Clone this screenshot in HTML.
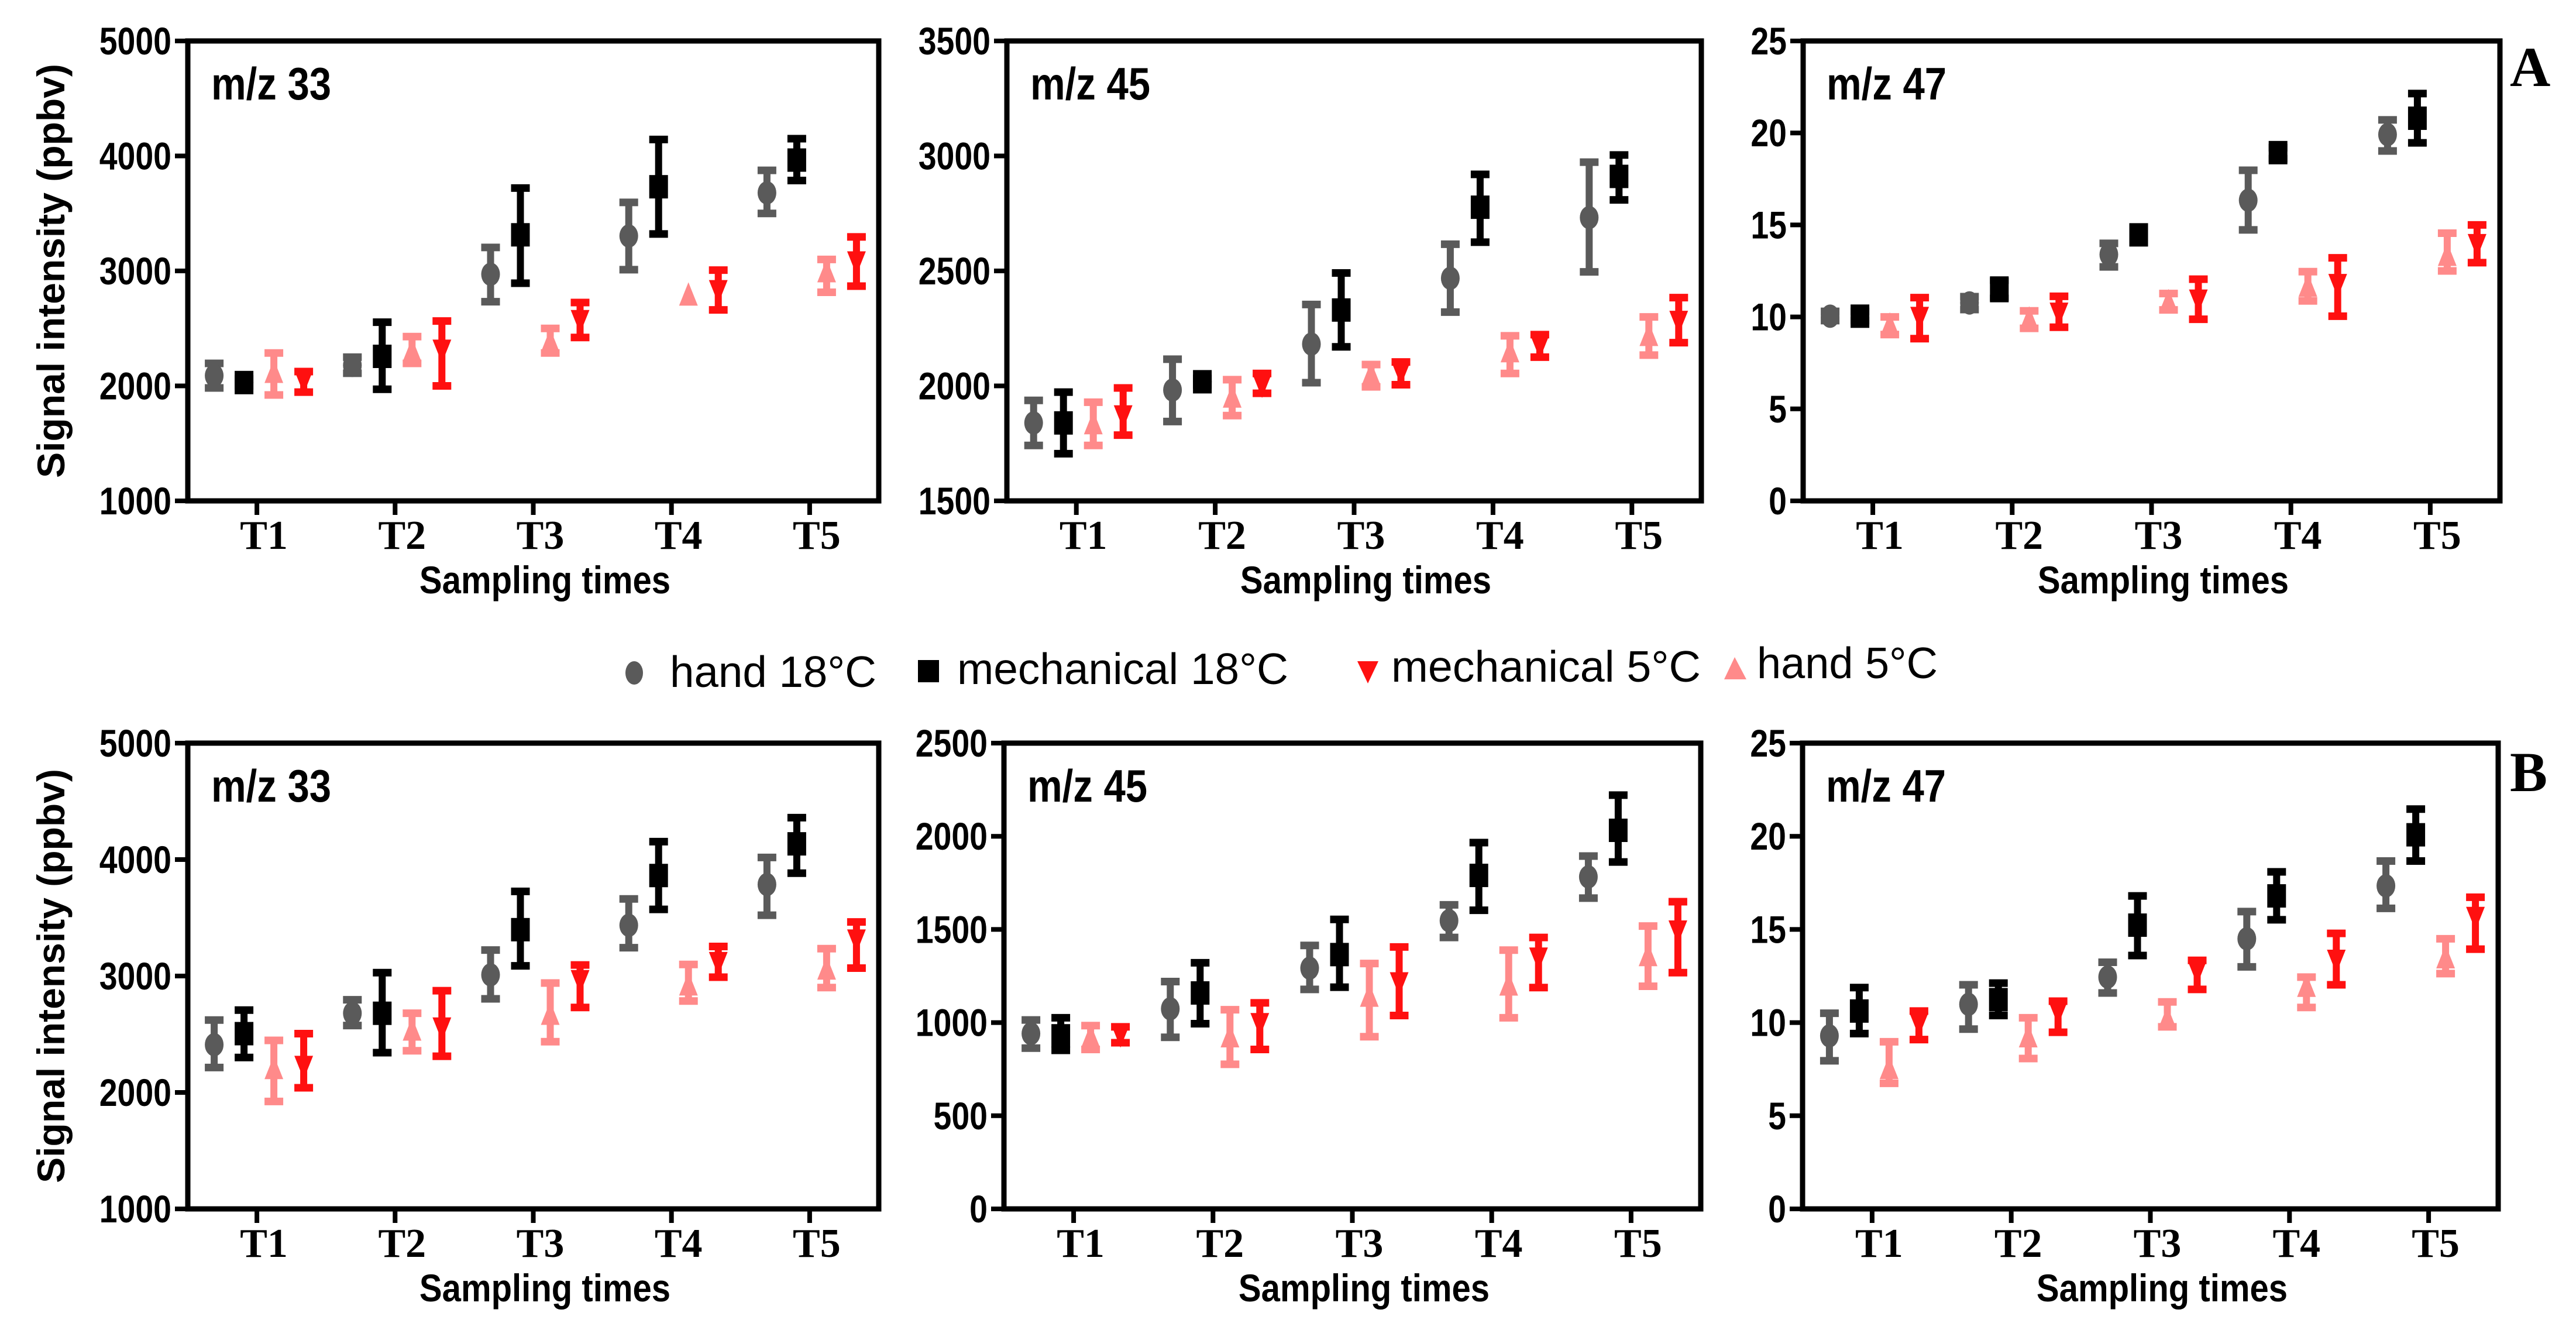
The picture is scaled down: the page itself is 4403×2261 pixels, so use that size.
<!DOCTYPE html>
<html><head><meta charset="utf-8"><style>
html,body{margin:0;padding:0;background:#fff;}
svg{display:block;}
text{font-family:"Liberation Sans",Arial,sans-serif;}
</style></head><body>
<svg id="fig" width="4403" height="2261" viewBox="0 0 4403 2261" xmlns="http://www.w3.org/2000/svg">
<rect x="0" y="0" width="4403" height="2261" fill="#fff"/>
<g>
  <ellipse cx="1084" cy="1150" rx="15" ry="20" fill="#5a5a5a"/>
  <text x="1145" y="1174" font-size="75" textLength="353" lengthAdjust="spacingAndGlyphs">hand 18°C</text>
  <rect x="1569" y="1128" width="36" height="38" fill="#000"/>
  <text x="1636" y="1169" font-size="75" textLength="566" lengthAdjust="spacingAndGlyphs">mechanical 18°C</text>
  <polygon points="2320,1130 2356,1130 2338,1168" fill="#ff1010"/>
  <text x="2378" y="1165" font-size="75" textLength="529" lengthAdjust="spacingAndGlyphs">mechanical 5°C</text>
  <polygon points="2965,1123 2947,1161 2985,1161" fill="#ff8a8a"/>
  <text x="3003" y="1159" font-size="75" textLength="309" lengthAdjust="spacingAndGlyphs">hand 5°C</text>
</g>
<text x="4290" y="147" font-weight="bold" font-size="96" style="font-family:'Liberation Serif',serif">A</text>
<text x="4290" y="1352" font-weight="bold" font-size="96" style="font-family:'Liberation Serif',serif">B</text>
</svg>
<script>
const categories = ["T1","T2","T3","T4","T5"];
const seriesNames = ["hand18","mech18","hand5","mech5"];
// [mean, low, high] per sampling time
const A33_hand18 = [[2089,1982,2196],[2179,2110,2250],[2971,2732,3204],[3304,3011,3596],[3679,3500,3875]];
const A33_mech18 = [[2029,2000,2060],[2257,1971,2554],[3314,2893,3721],[3732,3321,4143],[3964,3786,4150]];
const A33_hand5  = [[2107,1921,2286],[2293,2196,2429],[2375,2286,2500],[2779,2779,2779],[2982,2814,3100]];
const A33_mech5  = [[2054,1946,2125],[2321,2000,2564],[2579,2421,2725],[2839,2661,3007],[3089,2868,3296]];
const A45_hand18 = [[1839,1741,1937],[1982,1845,2116],[2182,2014,2354],[2468,2321,2616],[2732,2496,2973]];
const A45_mech18 = [[1839,1705,1973],[2018,2004,2032],[2330,2170,2491],[2777,2625,2920],[2911,2809,3004]];
const A45_hand5  = [[1830,1741,1929],[1946,1871,2027],[2045,1996,2093],[2143,2054,2218],[2214,2134,2300]];
const A45_mech5  = [[1875,1786,1991],[2009,1968,2054],[2063,2005,2104],[2179,2125,2223],[2286,2188,2384]];
const A47_hand18 = [[10.04,9.8,10.3],[10.76,10.4,11.1],[13.39,12.72,14.0],[16.34,14.73,17.97],[19.91,19.02,20.71]];
const A47_mech18 = [[10.04,9.8,10.3],[11.5,11.0,12.0],[14.46,14.1,14.8],[18.93,18.6,19.2],[20.8,19.46,22.14]];
const A47_hand5  = [[9.49,9.04,10.0],[9.82,9.38,10.33],[10.76,10.38,11.27],[11.6,10.87,12.46],[13.28,12.5,14.55]];
const A47_mech5  = [[10.04,8.82,11.05],[10.27,9.44,11.12],[10.98,9.87,12.05],[11.83,10.04,13.21],[14.0,12.95,15.0]];
const B33_hand18 = [[2410,2214,2622],[2680,2575,2796],[3010,2804,3223],[3436,3243,3662],[3786,3522,4018]];
const B33_mech18 = [[2505,2300,2707],[2680,2342,3029],[3398,3087,3727],[3863,3572,4154],[4135,3883,4360]];
const B33_hand5  = [[2195,1923,2447],[2525,2358,2680],[2661,2436,2940],[2913,2785,3099],[3049,2901,3235]];
const B33_mech5  = [[2234,2040,2505],[2564,2311,2874],[2971,2730,3095],[3126,2990,3254],[3320,3068,3464]];
const B45_hand18 = [[941,863,1014],[1074,921,1220],[1292,1178,1414],[1547,1457,1632],[1782,1668,1894]];
const B45_mech18 = [[929,851,1026],[1159,994,1321],[1365,1190,1554],[1790,1603,1966],[2032,1862,2221]];
const B45_hand5  = [[917,856,984],[917,776,1069],[1135,924,1317],[1195,1026,1389],[1353,1195,1518]];
const B45_mech5  = [[941,892,977],[1001,856,1106],[1220,1038,1406],[1353,1188,1457],[1498,1268,1649]];
const B47_hand18 = [[9.29,7.95,10.5],[10.98,9.65,12.03],[12.44,11.59,13.24],[14.5,12.99,15.96],[17.34,16.13,18.67]];
const B47_mech18 = [[10.62,9.41,11.88],[11.23,10.38,12.12],[15.23,13.6,16.8],[16.8,15.52,18.09],[20.08,18.67,21.46]];
const B47_hand5  = [[7.47,6.74,8.97],[9.17,8.07,10.26],[10.14,9.77,11.11],[11.88,10.81,12.44],[13.41,12.63,14.5]];
const B47_mech5  = [[10.01,9.09,10.62],[10.62,9.48,11.15],[12.8,11.78,13.34],[13.41,12.03,14.79],[15.71,13.94,16.73]];
const ticks33 = [1000,2000,3000,4000,5000];
const ticksA45 = [1500,2000,2500,3000,3500];
const ticksB45 = [0,500,1000,1500,2000,2500];
const ticks47 = [0,5,10,15,20,25];

const NS="http://www.w3.org/2000/svg";
const svg=document.getElementById('fig');
function mk(tag,attrs,parent){const e=document.createElementNS(NS,tag);for(const k in attrs)e.setAttribute(k,attrs[k]);(parent||svg).appendChild(e);return e;}
const colors={hand18:"#5a5a5a",mech18:"#000000",hand5:"#ff8a8a",mech5:"#ff1010"};
const offsets={hand18:-75,mech18:-24,hand5:27,mech5:78};

function panel(id,L,R,T,B,ticks,label,data,showTitle){
  const g=mk('g',{});
  
  
  const ymin=ticks[0],ymax=ticks[ticks.length-1];
  const yS=v=>B-(v-ymin)/(ymax-ymin)*(B-T);
  const cw=(R-L)/categories.length;
  const xS=i=>L+(i+0.5)*cw+2;
  const fr=mk('rect',{x:L,y:T,width:R-L,height:B-T,fill:'none',stroke:'#000','stroke-width':9},g);
  
  
  ticks.forEach(t=>{
    const y=yS(t);
    const tl=mk('line',{x1:L-22,x2:L,y1:y,y2:y,stroke:'#000','stroke-width':8},g);
    
    
    const tx=mk('text',{x:0,y:0,'text-anchor':'end','font-size':66,'font-weight':'bold',transform:`translate(${L-28},${y+23}) scale(0.84,1)`},g);
    
    
    tx.textContent=t;
  });
  categories.forEach((c,i)=>{
    const x=L+(i+0.5)*cw;
    const tl=mk('line',{x1:x,x2:x,y1:B,y2:B+24,stroke:'#000','stroke-width':8},g);
    
    
    const tx=mk('text',{x:x+12,y:B+82,'text-anchor':'middle','font-size':70,'font-weight':'bold',style:"font-family:'Liberation Serif',serif"},g);
    
    
    tx.textContent=c;
  });
  const xt=mk('text',{x:0,y:0,'text-anchor':'middle','font-size':66,'font-weight':'bold',transform:`translate(${(L+R)/2+20},${B+158}) scale(0.88,1)`},g);
  
  
  xt.textContent='Sampling times';
  const lb=mk('text',{x:0,y:0,'font-size':78,'font-weight':'bold',transform:`translate(${L+40},${T+100}) scale(0.86,1)`},g);
  
  
  lb.textContent=label;
  if(showTitle){
    const cy=(T+B)/2;
    const yt=mk('text',{x:0,y:0,'text-anchor':'middle','font-size':66,'font-weight':'bold',transform:`translate(110,${cy}) rotate(-90)`},g);
    
    
    yt.textContent='Signal intensity (ppbv)';
  }
  seriesNames.forEach((s,si)=>{
    const arr=data[si];
    arr.forEach((d,i)=>{
      const x=xS(i)+offsets[s];
      const col=colors[s];
      const ym=yS(d[0]),ylo=yS(d[1]),yhi=yS(d[2]);
      const eg=mk('g',{},g);
      
      
      if(ylo-yhi>6){
        const el=mk('line',{x1:x,x2:x,y1:yhi,y2:ylo,stroke:col,'stroke-width':12},eg);
        
        
        [yhi,ylo].forEach(yy=>{
          const cap=mk('line',{x1:x-16,x2:x+16,y1:yy,y2:yy,stroke:col,'stroke-width':13},eg);
          
          
        });
      }
      let m;
      if(s==='hand18') m=mk('ellipse',{cx:x,cy:ym,rx:16,ry:20,fill:col},eg);
      else if(s==='mech18') m=mk('rect',{x:x-16,y:ym-20,width:32,height:40,fill:col},eg);
      else if(s==='hand5') m=mk('polygon',{points:`${x},${ym-24} ${x-16},${ym+16} ${x+16},${ym+16}`,fill:col},eg);
      else m=mk('polygon',{points:`${x-16},${ym-16} ${x+16},${ym-16} ${x},${ym+24}`,fill:col},eg);
      
      
    });
  });
}
panel('a-mz33',321,1502,70,856,ticks33,'m/z 33',[A33_hand18,A33_mech18,A33_hand5,A33_mech5],true);
panel('a-mz45',1721,2908,70,856,ticksA45,'m/z 45',[A45_hand18,A45_mech18,A45_hand5,A45_mech5],false);
panel('a-mz47',3082,4273,70,856,ticks47,'m/z 47',[A47_hand18,A47_mech18,A47_hand5,A47_mech5],false);
panel('b-mz33',321,1502,1270,2066,ticks33,'m/z 33',[B33_hand18,B33_mech18,B33_hand5,B33_mech5],true);
panel('b-mz45',1716,2907,1270,2066,ticksB45,'m/z 45',[B45_hand18,B45_mech18,B45_hand5,B45_mech5],false);
panel('b-mz47',3081,4270,1270,2066,ticks47,'m/z 47',[B47_hand18,B47_mech18,B47_hand5,B47_mech5],false);
</script>
</body></html>
